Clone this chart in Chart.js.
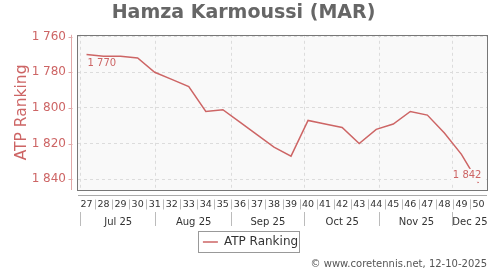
<!DOCTYPE html>
<html><head><meta charset="utf-8">
<script src="https://cdn.jsdelivr.net/npm/chart.js@4.4.1/dist/chart.umd.min.js"></script>
<style>html,body{margin:0;padding:0;background:#fff}#wrap{width:500px;height:270px;position:relative}</style>
</head><body><div id="wrap"><canvas id="c"></canvas></div>
<script>
// ---- data ----
const weekLabels = ['27','28','29','30','31','32','33','34','35','36','37','38','39','40','41','42','43','44','45','46','47','48','49','50'];
const atpRanking = [1770,1771,1771,1772,1780,1784,1788,1802,1801,1808,1815,1822,1827,1807,1809,1811,1820,1812,1809,1802,1804,1814,1826,1842];
const monthLabels = ['Jul 25','Aug 25','Sep 25','Oct 25','Nov 25','Dec 25'];
const monthStarts = ['2025-07-01','2025-08-01','2025-09-01','2025-10-01','2025-11-01','2025-12-01'];
const firstWeekStart = '2025-06-30';
const yTickValues = [1760,1780,1800,1820,1840];
const seriesName = 'ATP Ranking';
const chartTitle = 'Hamza Karmoussi (MAR)';
const footerText = '\u00A9 www.coretennis.net, 12-10-2025';

// ---- helpers ----
const RED = '#cd6565';
const DAY = 86400000;
const t0 = Date.parse(firstWeekStart + 'T00:00:00Z');
const toIdx = s => (Date.parse(s + 'T00:00:00Z') - t0) / DAY / 7 - 0.5;
const xMin = -0.5, xMax = weekLabels.length - 0.5;
const bounds = monthStarts.map(toIdx);
const monthTicks = [];
bounds.forEach((b, i) => {
  monthTicks.push({value: b, name: ''});
  const next = i + 1 < bounds.length ? bounds[i + 1] : xMax;
  monthTicks.push({value: (b + next) / 2, name: monthLabels[i]});
});
const fmt = v => String(v).replace(/\B(?=(\d{3})+(?!\d))/g, ' ');
const LEGEND_SHIFT = 7;

const decor = {
  id: 'decor',
  afterLayout(chart) {
    const lg = chart.legend;
    if (lg) {
      lg.left += LEGEND_SHIFT; lg.right += LEGEND_SHIFT;
      if (lg.legendHitBoxes) lg.legendHitBoxes.forEach(h => { h.left += LEGEND_SHIFT; });
    }
  },
  beforeDraw(chart) {
    const {ctx, chartArea: a} = chart;
    ctx.save();
    ctx.fillStyle = '#f9f9f9';
    ctx.fillRect(a.left, a.top, a.width, a.height);
    ctx.restore();
  },
  beforeDatasetsDraw(chart) {
    const {ctx, chartArea: a} = chart;
    const y = chart.scales.y, x = chart.scales.x;
    ctx.save();
    ctx.strokeStyle = '#777';
    ctx.lineWidth = 1;
    ctx.strokeRect(Math.round(a.left) - 0.5, Math.round(a.top) + 0.5, Math.round(a.width) + 1, Math.round(a.height));
    ctx.strokeStyle = '#e0a8a8';
    const ax = Math.round(a.left) - 6.5;
    ctx.beginPath();
    ctx.moveTo(ax, a.top); ctx.lineTo(ax, a.bottom);
    yTickValues.forEach(v => {
      const py = Math.round(y.getPixelForValue(v)) + 0.5;
      ctx.moveTo(ax - 3, py); ctx.lineTo(ax + 1, py);
    });
    ctx.stroke();
    ctx.strokeStyle = '#aaa';
    const ay = Math.round(a.bottom) + 5.5;
    ctx.beginPath();
    ctx.moveTo(a.left, ay); ctx.lineTo(a.right, ay);
    ctx.stroke();
    ctx.strokeStyle = '#bbb';
    ctx.beginPath();
    for (let i = 1; i < weekLabels.length; i++) {
      const px = Math.round(x.getPixelForValue(i - 0.5)) + 0.5;
      ctx.moveTo(px, ay + 4); ctx.lineTo(px, ay + 14);
    }
    ctx.stroke();
    ctx.restore();
  },
  afterDatasetsDraw(chart) {
    const {ctx} = chart;
    const pts = chart.getDatasetMeta(0).data;
    const n = pts.length;
    ctx.save();
    ctx.font = '10px "DejaVu Sans"';
    ctx.textBaseline = 'middle';
    ctx.fillStyle = RED;
    const p0 = pts[0];
    ctx.textAlign = 'left';
    ctx.fillText(fmt(atpRanking[0]), p0.x + 1, p0.y + 9);
    const pl = pts[n - 1];
    const txt = fmt(atpRanking[n - 1]);
    const w = ctx.measureText(txt).width;
    ctx.fillStyle = '#f9f9f9';
    ctx.fillRect(pl.x + 3 - w - 2, pl.y - 14, w + 4, 13);
    ctx.fillStyle = RED;
    ctx.textAlign = 'right';
    ctx.fillText(txt, pl.x + 3, pl.y - 7.5);
    ctx.restore();
  },
  afterDraw(chart) {
    const lg = chart.legend;
    if (!lg || !lg.legendHitBoxes || !lg.legendHitBoxes.length) return;
    const hb = lg.legendHitBoxes[0];
    const {ctx} = chart;
    ctx.save();
    ctx.strokeStyle = '#999';
    ctx.lineWidth = 1;
    ctx.strokeRect(Math.round(hb.left) - 4.5, Math.round(hb.top) - 4.5, Math.round(hb.width) + 6, Math.round(hb.height) + 9);
    ctx.restore();
  }
};

new Chart(document.getElementById('c'), {
  type: 'line',
  data: {
    labels: weekLabels,
    datasets: [{
      label: seriesName,
      data: atpRanking,
      borderColor: RED,
      backgroundColor: RED,
      borderWidth: 1.5,
      pointRadius: 0,
      tension: 0,
      xAxisID: 'x',
      yAxisID: 'y'
    }]
  },
  options: {
    responsive: true,
    maintainAspectRatio: false,
    animation: false,
    layout: {padding: {left: 0, right: 13, top: 0, bottom: 0}},
    plugins: {
      title: {
        display: true, text: chartTitle, color: '#666',
        font: {family: '"DejaVu Sans"', size: 19, weight: 'bold'},
        padding: {top: 2, bottom: 10}
      },
      subtitle: {
        display: true, text: footerText, position: 'bottom', align: 'end',
        color: '#555', font: {family: '"DejaVu Sans"', size: 10},
        padding: {top: 0, bottom: 0}
      },
      legend: {
        position: 'bottom',
        labels: {
          color: '#333', font: {family: '"DejaVu Sans"', size: 12},
          usePointStyle: true, pointStyle: 'line', pointStyleWidth: 15,
          boxHeight: 12, padding: 4
        }
      },
      tooltip: {enabled: false}
    },
    scales: {
      x: {
        type: 'category',
        position: 'bottom',
        offset: true,
        grid: {display: false, drawTicks: false},
        border: {display: false},
        ticks: {color: '#333', font: {family: '"DejaVu Sans"', size: 9.5}, padding: 9, autoSkip: false, maxRotation: 0, minRotation: 0},
        afterFit: s => { s.height = 22; }
      },
      x2: {
        type: 'linear',
        position: 'bottom',
        min: xMin, max: xMax,
        afterBuildTicks: s => { s.ticks = monthTicks.map(t => ({value: t.value, name: t.name})); },
        ticks: {
          color: '#333', font: {family: '"DejaVu Sans"', size: 10},
          autoSkip: false, maxRotation: 0, minRotation: 0, padding: -10,
          callback: (v, i, ticks) => ticks[i].name
        },
        grid: {
          drawOnChartArea: true, drawTicks: true, tickLength: 14,
          color: c => (c.tick && c.tick.name) ? 'rgba(0,0,0,0)' : '#dcdcdc',
          tickColor: c => (c.tick && c.tick.name) ? 'rgba(0,0,0,0)' : '#bbb',
          tickBorderDash: []
        },
        border: {display: false, dash: [3, 3]},
        afterFit: s => { s.height = 20; }
      },
      y: {
        reverse: true,
        min: 1759, max: 1846,
        afterBuildTicks: s => { s.ticks = yTickValues.map(v => ({value: v})); },
        ticks: {color: RED, font: {family: '"DejaVu Sans"', size: 12}, padding: 12, callback: v => fmt(v)},
        grid: {color: '#dcdcdc', drawTicks: false},
        border: {display: false, dash: [3, 3]},
        title: {display: true, text: seriesName, color: RED, font: {family: '"DejaVu Sans"', size: 15.5}, padding: {top: 13, bottom: 4}},
        afterFit: s => { s.width = 78; }
      }
    }
  },
  plugins: [decor]
});
</script>
</body></html>
